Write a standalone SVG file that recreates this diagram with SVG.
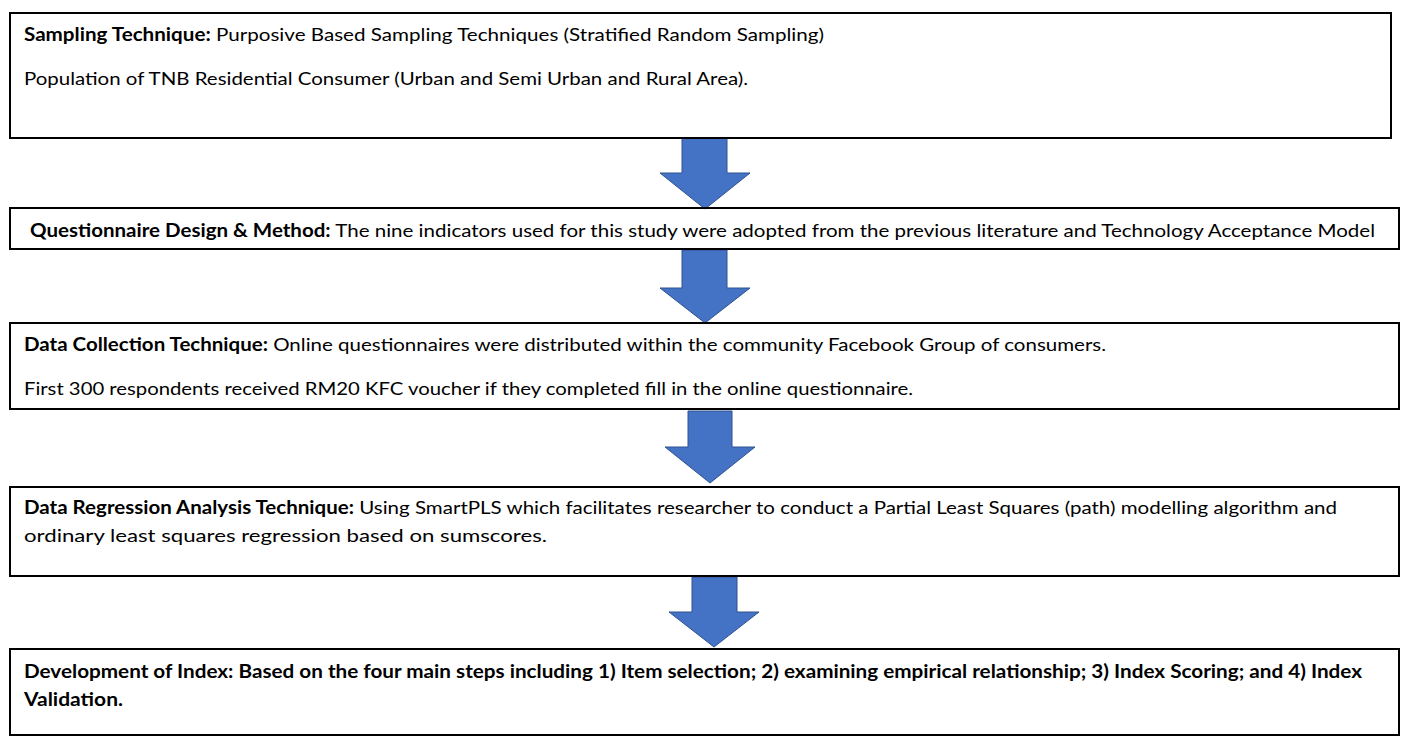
<svg xmlns="http://www.w3.org/2000/svg" width="1412" height="744" viewBox="0 0 1412 744">
<style>
.box{fill:none;stroke:#000;stroke-width:2}
.arrow{fill:#4472C4;stroke:#2F528F;stroke-width:1}
text{font-family:Lato,"Open Sans","Liberation Sans",sans-serif;font-size:18px;fill:#000}
.b{font-weight:bold}
</style>
<rect x="0" y="0" width="1412" height="744" fill="#fff"/>
<g id="connectors">
<polygon class="arrow" points="682,138 727,138 727,173 750,173 705,209 660,173 682,173"/>
<polygon class="arrow" points="682,250 727,250 727,288 750,288 705,323 660,288 682,288"/>
<polygon class="arrow" points="688,411 732,411 732,447 755,447 710,483 665,447 688,447"/>
<polygon class="arrow" points="692,577 737,577 737,612 759,612 714,647 669,612 692,612"/>
</g>
<g id="sampling">
<rect class="box" x="10" y="13" width="1381" height="125"/>
<text x="24" y="41" textLength="800" lengthAdjust="spacingAndGlyphs"><tspan class="b">Sampling Technique:</tspan> Purposive Based Sampling Techniques (Stratified Random Sampling)</text>
<text x="24" y="85" textLength="724" lengthAdjust="spacingAndGlyphs">Population of TNB Residential Consumer (Urban and Semi Urban and Rural Area).</text>
</g>
<g id="questionnaire">
<rect class="box" x="10" y="208" width="1389" height="41"/>
<text x="30" y="237" textLength="1345" lengthAdjust="spacingAndGlyphs"><tspan class="b">Questionnaire Design &amp; Method:</tspan> The nine indicators used for this study were adopted from the previous literature and Technology Acceptance Model</text>
</g>
<g id="collection">
<rect class="box" x="10" y="323" width="1389" height="86"/>
<text x="24" y="351" textLength="1082" lengthAdjust="spacingAndGlyphs"><tspan class="b">Data Collection Technique:</tspan> Online questionnaires were distributed within the community Facebook Group of consumers.</text>
<text x="24" y="395" textLength="889" lengthAdjust="spacingAndGlyphs">First 300 respondents received RM20 KFC voucher if they completed fill in the online questionnaire.</text>
</g>
<g id="regression">
<rect class="box" x="10" y="487" width="1389" height="89"/>
<text x="24" y="514" textLength="1313" lengthAdjust="spacingAndGlyphs"><tspan class="b">Data Regression Analysis Technique:</tspan> Using SmartPLS which facilitates researcher to conduct a Partial Least Squares (path) modelling algorithm and</text>
<text x="24" y="542" textLength="523" lengthAdjust="spacingAndGlyphs">ordinary least squares regression based on sumscores.</text>
</g>
<g id="index">
<rect class="box" x="10" y="649" width="1389" height="86"/>
<text class="b" x="24" y="678" textLength="1338" lengthAdjust="spacingAndGlyphs">Development of Index: Based on the four main steps including 1) Item selection; 2) examining empirical relationship; 3) Index Scoring; and 4) Index</text>
<text class="b" x="24" y="706" textLength="99" lengthAdjust="spacingAndGlyphs">Validation.</text>
</g>
</svg>
